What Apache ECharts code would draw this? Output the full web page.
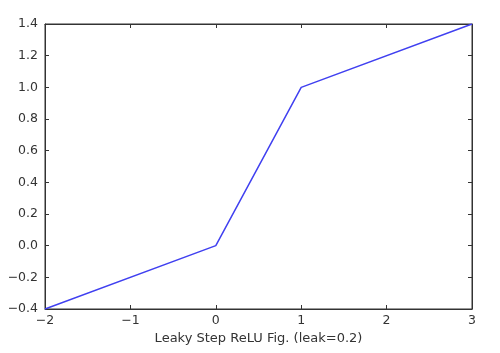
<!DOCTYPE html>
<html><head><meta charset="utf-8">
<script src="https://cdn.jsdelivr.net/npm/echarts@6/dist/echarts.min.js"></script>
<style>html,body{margin:0;padding:0;background:#fff}#c{width:500px;height:353px}</style>
</head><body><div id="c"></div>
<script>
const xValues = [-2, 0, 1, 3];
const yValues = [-0.4, 0, 1, 1.4];
const xTitle = 'Leaky Step ReLU Fig. (leak=0.2)';
const fnt = 'DejaVu Sans';
const minus = s => String(s).replace('-', '\u2212');
const chart = echarts.init(document.getElementById('c'));
const axisBase = {
  type: 'value',
  axisLine: { show: true, onZero: false, lineStyle: { color: '#333', width: 1 } },
  axisTick: { show: true, inside: true, length: 4, lineStyle: { color: '#333' } },
  splitLine: { show: false }
};
chart.setOption({
  animation: false,
  grid: { left: 45, right: 28, top: 24, bottom: 44, show: true, borderColor: '#333', borderWidth: 1 },
  xAxis: [
    Object.assign({}, axisBase, {
      min: -2, max: 3, interval: 1, position: 'bottom',
      name: xTitle, nameLocation: 'middle', nameGap: 22,
      nameTextStyle: { fontFamily: fnt, fontSize: 13, color: '#333' },
      axisLabel: { fontFamily: fnt, fontSize: 12.5, color: '#333', margin: 5, formatter: v => minus(v) }
    }),
    Object.assign({}, axisBase, {
      min: -2, max: 3, interval: 1, position: 'top', axisLabel: { show: false }
    })
  ],
  yAxis: [
    Object.assign({}, axisBase, {
      min: -0.4, max: 1.4, interval: 0.2, position: 'left',
      axisLabel: { fontFamily: fnt, fontSize: 12.5, color: '#333', margin: 7, formatter: v => minus(Number(v).toFixed(1)) }
    }),
    Object.assign({}, axisBase, {
      min: -0.4, max: 1.4, interval: 0.2, position: 'right', axisLabel: { show: false }
    })
  ],
  series: [{
    type: 'line',
    data: xValues.map((x, i) => [x, yValues[i]]),
    showSymbol: false,
    lineStyle: { color: '#4040f0', width: 1.5 }
  }]
});
</script></body></html>
